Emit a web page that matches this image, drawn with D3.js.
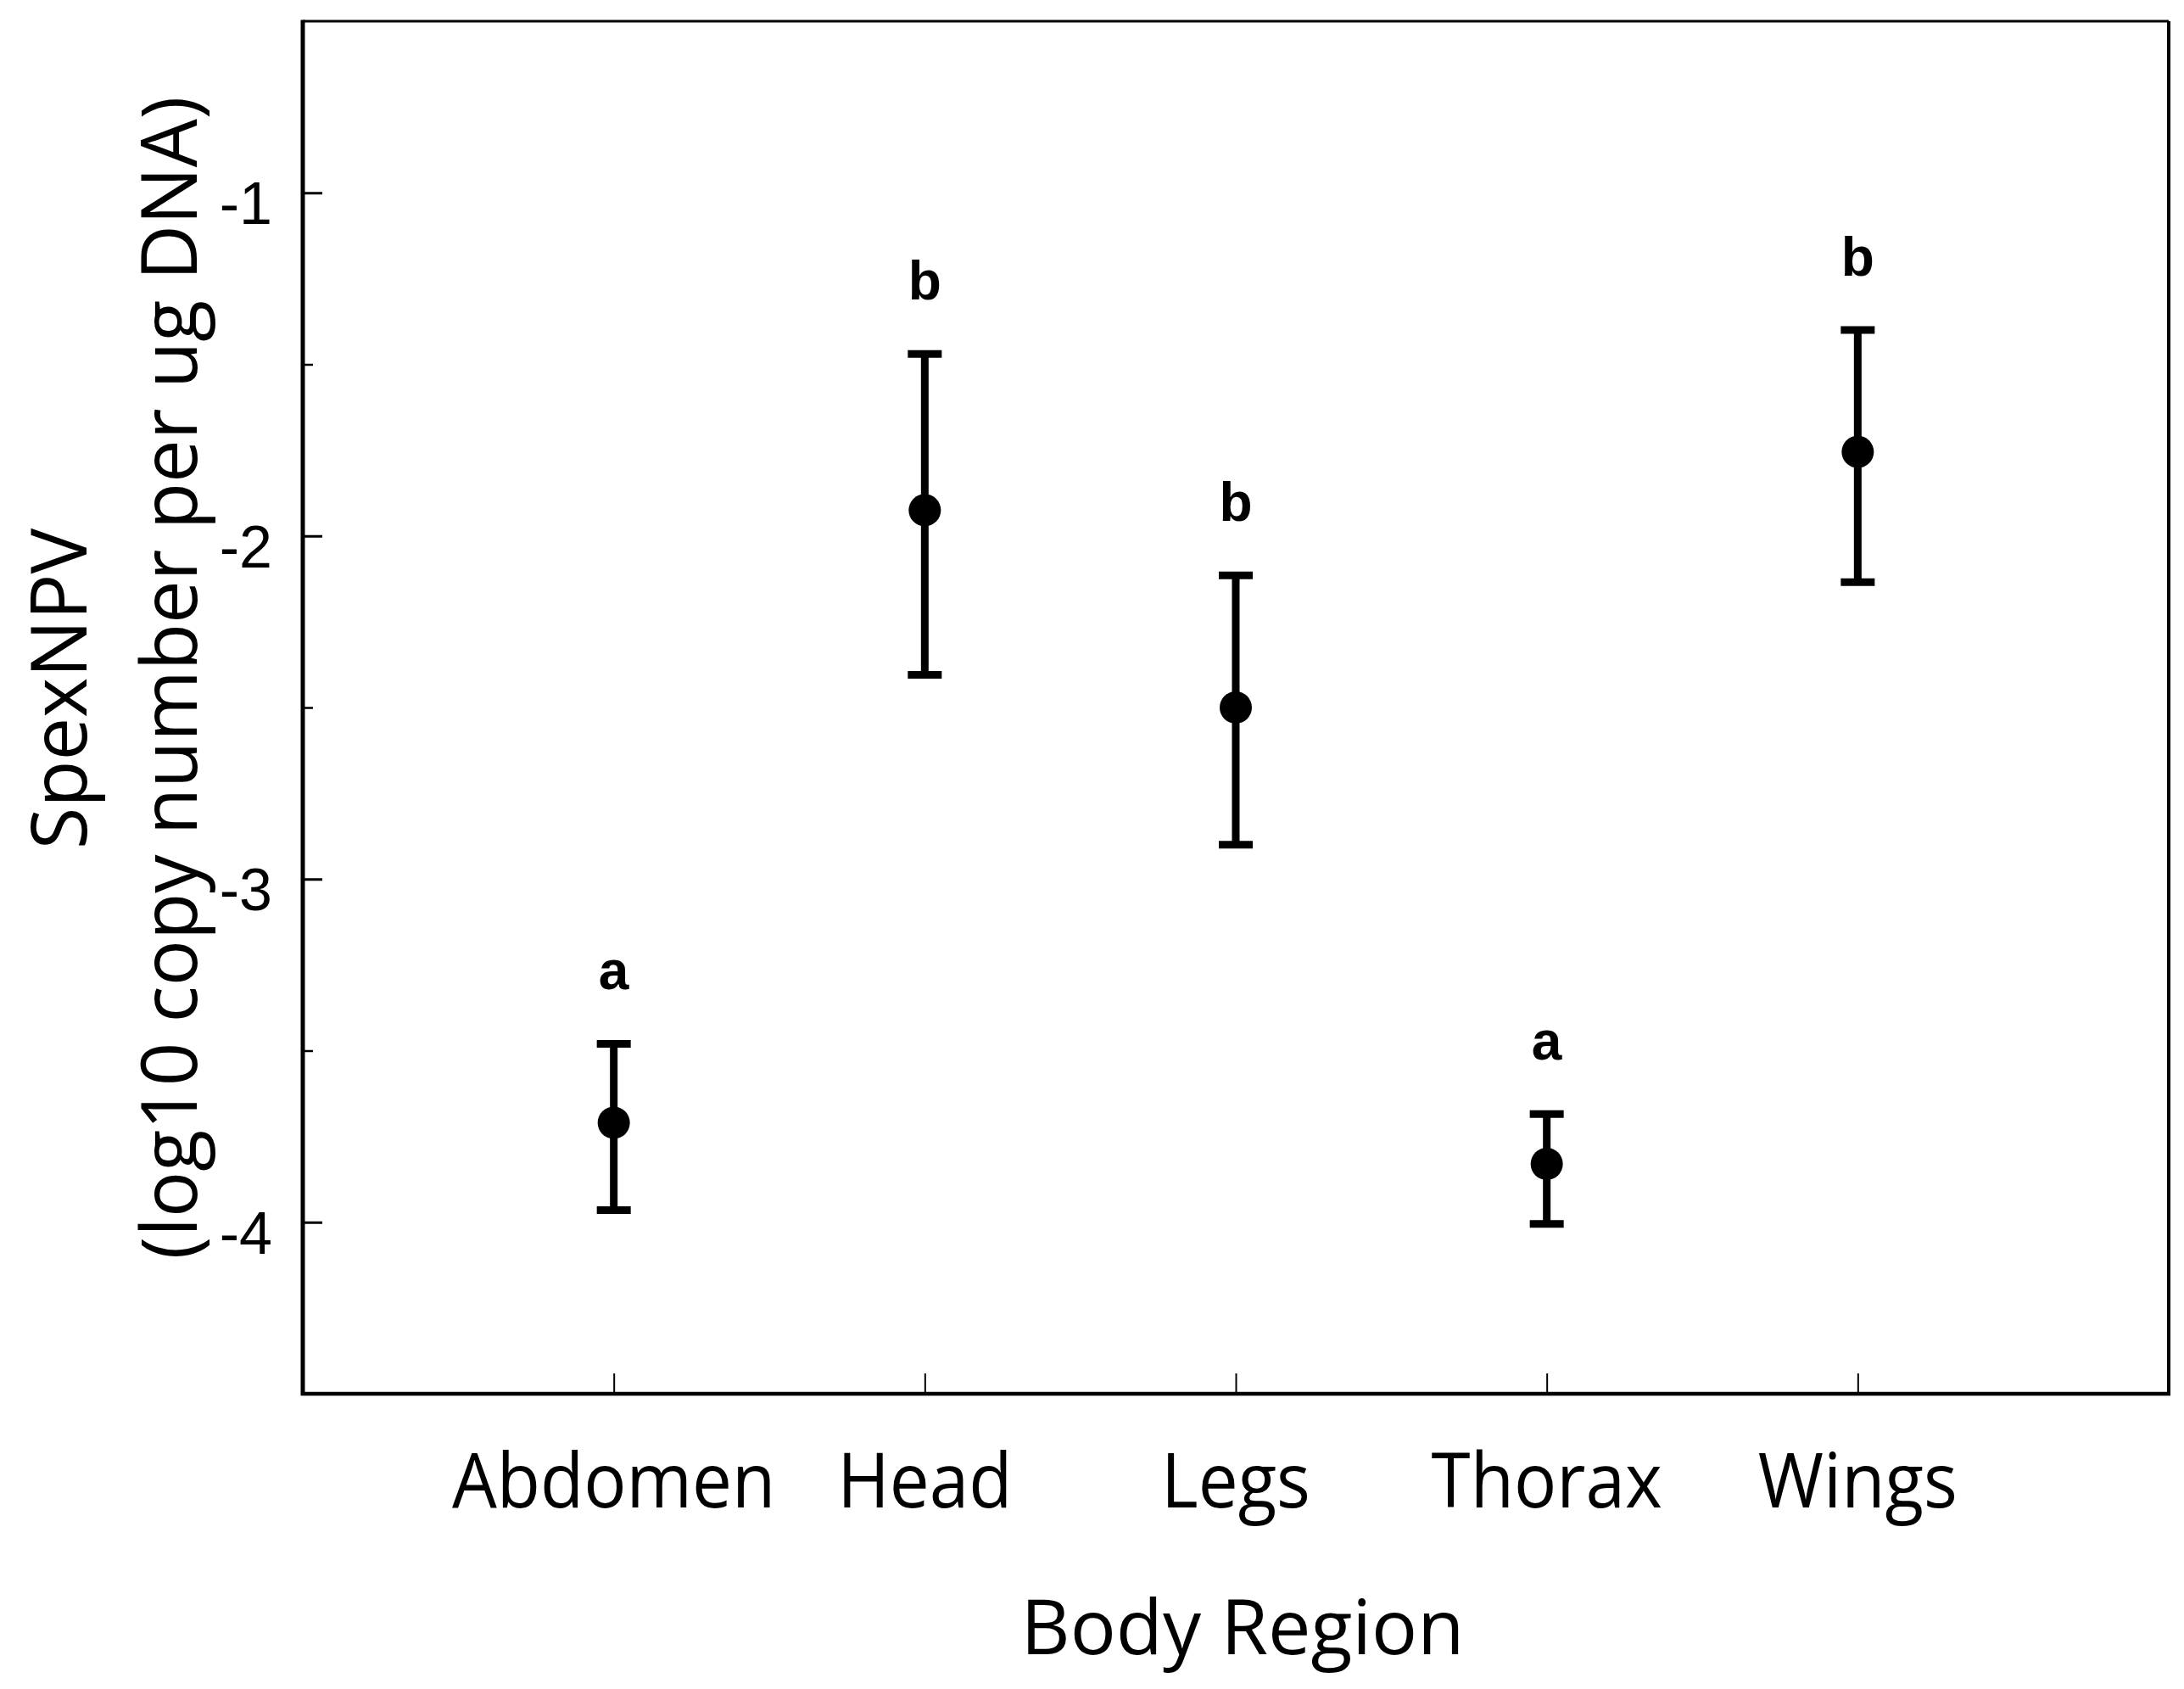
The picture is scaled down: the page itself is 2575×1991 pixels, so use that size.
<!DOCTYPE html>
<html>
<head>
<meta charset="utf-8">
<script src="https://cdn.jsdelivr.net/npm/d3@7"></script>
<style>
  body { margin: 0; background: #fff; }
  svg { display: block; }
</style>
</head>
<body>
<script>
// data (log10 copy number per ug DNA)
var regions = ["Abdomen", "Head", "Legs", "Thorax", "Wings"];
var means   = [-3.71, -1.925, -2.50, -3.83, -1.755];
var upper   = [-3.48, -1.47, -2.115, -3.685, -1.40];
var lower   = [-3.965, -2.405, -2.90, -4.005, -2.135];
var groups  = ["a", "b", "b", "a", "b"];
var yTicks  = [-1, -2, -3, -4];
var yMinor  = [-1.5, -2.5, -3.5];

var W = 2575, H = 1991;
var margin = {top: 25, right: 18, bottom: 348, left: 357},
    width = W - margin.left - margin.right,
    height = H - margin.top - margin.bottom;

var svg = d3.select("body").append("svg")
    .attr("width", W)
    .attr("height", H)
  .append("g")
    .attr("transform", "translate(" + margin.left + "," + margin.top + ")");

var x = d3.scalePoint().domain(regions).range([0, width]).padding(1);
var y = d3.scaleLinear().domain([-4.5, -0.5]).range([height, 0]);

var rows = regions.map(function(r, i) {
  return {region: r, mean: means[i], hi: upper[i], lo: lower[i], group: groups[i]};
});

// minor y ticks
svg.append("g")
    .call(d3.axisLeft(y).tickValues(yMinor).tickSize(-12).tickFormat(""))
    .call(function(g) { g.select(".domain").remove(); })
    .selectAll("line").attr("stroke", "#000").attr("stroke-width", 2.5);

// major y ticks + labels
var yAxis = svg.append("g")
    .call(d3.axisLeft(y).tickValues(yTicks).tickSize(-23).tickPadding(36)
      .tickFormat(function(d) { return "-" + Math.abs(d); }));
yAxis.select(".domain").remove();
yAxis.selectAll("line").attr("stroke", "#000").attr("stroke-width", 3);
yAxis.selectAll("text")
    .attr("dy", "0.52em")
    .style("font-family", "'Liberation Sans', Arial, sans-serif")
    .style("font-size", "70px")
    .attr("fill", "#000");

// x ticks
var xAxis = svg.append("g")
    .attr("transform", "translate(0," + height + ")")
    .call(d3.axisBottom(x).tickSize(-24).tickFormat(""));
xAxis.select(".domain").remove();
xAxis.selectAll("line").attr("stroke", "#000").attr("stroke-width", 2);

// x category labels (original font is a narrow one, so squeeze Open Sans a bit)
svg.append("g").selectAll("text")
    .data(regions)
  .enter().append("text")
    .attr("transform", function(d) {
      return "translate(" + x(d) + "," + (height + 134) + ") scale(0.93,1)";
    })
    .attr("text-anchor", "middle")
    .style("font-family", "'Open Sans', sans-serif")
    .style("font-weight", 500)
    .style("font-size", "90px")
    .text(function(d) { return d; });

// frame
var frame = svg.append("g").attr("stroke", "#000").attr("fill", "none");
frame.append("line").attr("x1", 0).attr("x2", width).attr("y1", 0).attr("y2", 0).attr("stroke-width", 3);
frame.append("line").attr("x1", width).attr("x2", width).attr("y1", 0).attr("y2", height).attr("stroke-width", 4);
frame.append("line").attr("x1", -2).attr("x2", width + 2).attr("y1", height).attr("y2", height).attr("stroke-width", 4.5);
frame.append("line").attr("x1", 0).attr("x2", 0).attr("y1", -1.5).attr("y2", height + 2).attr("stroke-width", 5);

// error bars
var bar = svg.append("g").selectAll("g.bar")
    .data(rows)
  .enter().append("g")
    .attr("class", "bar")
    .attr("stroke", "#000")
    .attr("stroke-width", 9);

bar.append("line")
    .attr("x1", function(d) { return x(d.region); })
    .attr("x2", function(d) { return x(d.region); })
    .attr("y1", function(d) { return y(d.hi); })
    .attr("y2", function(d) { return y(d.lo); });

bar.append("line")
    .attr("x1", function(d) { return x(d.region) - 20; })
    .attr("x2", function(d) { return x(d.region) + 20; })
    .attr("y1", function(d) { return y(d.hi); })
    .attr("y2", function(d) { return y(d.hi); });

bar.append("line")
    .attr("x1", function(d) { return x(d.region) - 20; })
    .attr("x2", function(d) { return x(d.region) + 20; })
    .attr("y1", function(d) { return y(d.lo); })
    .attr("y2", function(d) { return y(d.lo); });

svg.append("g").selectAll("circle")
    .data(rows)
  .enter().append("circle")
    .attr("cx", function(d) { return x(d.region); })
    .attr("cy", function(d) { return y(d.mean); })
    .attr("r", 19)
    .attr("fill", "#000");

// significance letters
svg.append("g").selectAll("text")
    .data(rows)
  .enter().append("text")
    .attr("x", function(d) { return x(d.region); })
    .attr("y", function(d) { return y(d.hi) - 64; })
    .attr("text-anchor", "middle")
    .style("font-family", "'Liberation Sans', Arial, sans-serif")
    .style("font-weight", "bold")
    .style("font-size", "64px")
    .text(function(d) { return d.group; });

// axis titles
var outer = d3.select("svg");
outer.append("text")
    .attr("transform", "translate(102,812) rotate(-90) scale(0.98,1)")
    .attr("text-anchor", "middle")
    .style("font-family", "'Open Sans', sans-serif")
    .style("font-weight", 500)
    .style("font-size", "92px")
    .text("SpexNPV");
outer.append("text")
    .attr("transform", "translate(232,799) rotate(-90) scale(0.98,1)")
    .attr("text-anchor", "middle")
    .style("font-family", "'Open Sans', sans-serif")
    .style("font-weight", 500)
    .style("font-size", "92px")
    .text("(log10 copy number per ug DNA)");
outer.append("text")
    .attr("transform", "translate(1465,1950)")
    .attr("text-anchor", "middle")
    .style("font-family", "'Open Sans', sans-serif")
    .style("font-weight", 500)
    .style("font-size", "90px")
    .text("Body Region");
</script>
</body>
</html>
